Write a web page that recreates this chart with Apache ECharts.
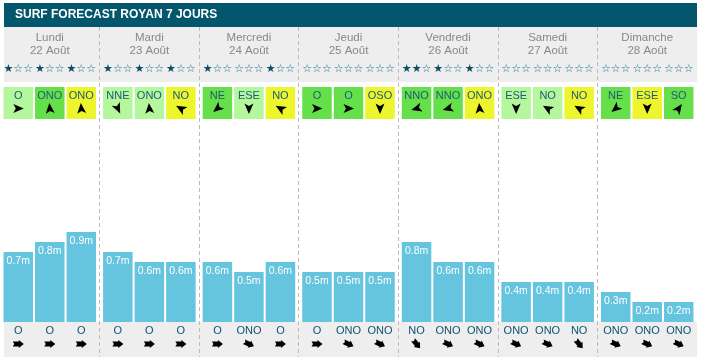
<!DOCTYPE html>
<html><head><meta charset="utf-8">
<script src="https://cdn.jsdelivr.net/npm/echarts@6/dist/echarts.min.js"></script>
<style>html,body{margin:0;padding:0;background:#fff}#c{width:701px;height:361px}</style>
</head><body><div id="c"></div>
<script>
const titleText = 'SURF FORECAST ROYAN 7 JOURS';
const days = ['Lundi\n22 Août','Mardi\n23 Août','Mercredi\n24 Août','Jeudi\n25 Août','Vendredi\n26 Août','Samedi\n27 Août','Dimanche\n28 Août'];
const waveHeights = [0.7,0.8,0.9, 0.7,0.6,0.6, 0.6,0.5,0.6, 0.5,0.5,0.5, 0.8,0.6,0.6, 0.4,0.4,0.4, 0.3,0.2,0.2];
const windDirs = ['O','ONO','ONO', 'NNE','ONO','NO', 'NE','ESE','NO', 'O','O','OSO', 'NNO','NNO','ONO', 'ESE','NO','NO', 'NE','ESE','SO'];
const windLevels = [0,1,2, 0,0,2, 1,0,2, 1,1,2, 1,1,2, 0,0,2, 1,2,1];
const stars = [1,1,1, 1,1,1, 1,0,1, 0,0,0, 2,1,1, 0,0,0, 0,0,0];
const swellDirs = ['O','O','O', 'O','O','O', 'O','ONO','O', 'O','ONO','ONO', 'NO','ONO','ONO', 'ONO','ONO','NO', 'ONO','ONO','ONO'];

const FONT = "'Liberation Sans', Arial, sans-serif";
const windColors = ['#b4f79c', '#66e04a', '#eef52d'];
const windAngle = {O:0, ONO:95, NNE:-65, NO:150, NE:-140, ESE:-90, OSO:-90, NNO:195, SO:55};
const swellAngle = {O:0, ONO:-25, NO:-50};
const deg = a => a * Math.PI / 180;

const chart = echarts.init(document.getElementById('c'), null, {renderer:'canvas'});
const barSeries = [0,1,2].map(s => ({
  type:'bar', barWidth:29.5, barGap:'6.8%',
  itemStyle:{color:'#65c4de'},
  label:{show:true, position:'insideTop', distance:4, formatter:'{c}m', color:'#fff', fontSize:10.5, fontFamily:FONT},
  data: days.map((_, d) => waveHeights[d*3+s]), z:3
}));

const customData = waveHeights.map((v,i)=>[Math.floor(i/3), i%3]);

function renderItem(params, api){
  const d = api.value(0), s = api.value(1), i = params.dataIndex;
  const cx = api.coord([d, 0])[0] + (s-1)*31.5;
  const n = stars[i];
  return {type:'group', children:[
    {type:'rect', shape:{x:cx-14.75, y:87, width:29.5, height:32}, style:{fill:windColors[windLevels[i]]}},
    {type:'text', x:cx, y:95.5, style:{text:windDirs[i], fill:'#1b5a7a', fontSize:11, fontFamily:FONT, align:'center', verticalAlign:'middle'}},
    {type:'polygon', x:cx, y:108.5, rotation:deg(windAngle[windDirs[i]]), shape:{points:[[5.5,0],[-5,-4.5],[-2.5,0],[-5,4.5]]}, style:{fill:'#000'}},
    {type:'text', x:cx, y:69.5, style:{text:'{f|'+'★'.repeat(n)+'}{e|'+'☆'.repeat(3-n)+'}', align:'center', verticalAlign:'middle',
       rich:{f:{fill:'#0d4f6b', fontSize:11, fontFamily:'DejaVu Sans'}, e:{fill:'#2a7a9a', fontSize:11, fontFamily:'DejaVu Sans'}}}},
    {type:'text', x:cx, y:330.5, style:{text:swellDirs[i], fill:'#0d5275', fontSize:11, fontFamily:FONT, align:'center', verticalAlign:'middle'}},
    {type:'polygon', x:cx, y:344, rotation:deg(swellAngle[swellDirs[i]]), shape:{points:[[-5.5,-2.5],[0.5,-2.5],[0.5,-4],[5.5,0],[0.5,4],[0.5,2.5],[-5.5,2.5],[-4,0]]}, style:{fill:'#000'}}
  ]};
}

chart.setOption({
  animation:false,
  title:{text:titleText, left:15, top:8.5, padding:0, textStyle:{color:'#fff', fontSize:12, fontWeight:'bold', fontFamily:FONT}},
  graphic:[
    {type:'rect', z:-10, shape:{x:4,y:3,width:693,height:24}, style:{fill:'#03566b'}},
    {type:'rect', z:-10, shape:{x:4,y:27,width:693,height:55}, style:{fill:'#eeeeee'}},
    {type:'rect', z:-10, shape:{x:4,y:322,width:693,height:35}, style:{fill:'#eeeeee'}}
  ],
  grid:{left:0, right:4, top:27, bottom:4},
  xAxis:{type:'category', data:days, position:'top',
    axisLine:{show:false}, axisTick:{show:false},
    axisLabel:{inside:true, margin:4.5, color:'#888', fontSize:11.5, lineHeight:13, fontFamily:FONT},
    splitLine:{show:true, showMinLine:false, showMaxLine:false, lineStyle:{type:[4,3], color:'#bbbbbb', width:1}}},
  yAxis:{type:'value', min:-0.35, max:2.95, show:false},
  series:[...barSeries, {type:'custom', renderItem, data:customData, z:4}]
});
</script></body></html>
